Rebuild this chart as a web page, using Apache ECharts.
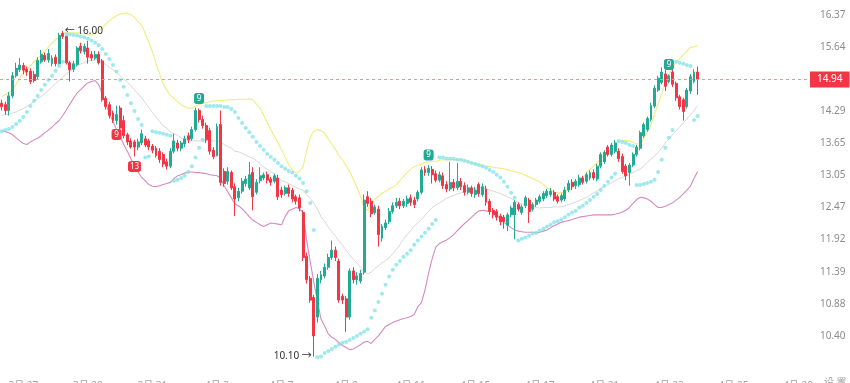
<!DOCTYPE html>
<html><head><meta charset="utf-8">
<script src="https://cdn.jsdelivr.net/npm/echarts@6/dist/echarts.min.js"></script>
<style>html,body{margin:0;padding:0;background:#fff}#c{width:850px;height:383px}</style>
</head><body><div id="c"></div>
<script>
const xTickLabels = ['3月 27','3月 29','3月 31','4月 3','4月 7','4月 9','4月 11','4月 15','4月 17','4月 21','4月 23','4月 25','4月 29'];
const yTickLabels = ['10.40','10.88','11.39','11.92','12.47','13.05','13.65','14.29','14.94','15.64','16.37'];

const opens = [14.45,14.42,14.30,14.60,15.02,15.15,15.24,15.16,15.12,15.05,
15.00,15.32,15.46,15.36,15.28,15.42,15.28,15.95,15.88,15.30,
15.16,15.26,15.66,15.54,15.62,15.48,15.40,15.48,15.34,14.55,
14.42,14.25,14.10,14.35,14.10,13.82,13.70,13.68,13.58,13.66,
13.74,13.70,13.60,13.56,13.50,13.44,13.30,13.22,13.50,13.66,
13.56,13.64,13.80,13.74,13.92,14.30,14.12,14.00,13.90,13.52,
13.42,14.02,13.12,12.94,13.10,12.84,12.64,12.76,12.90,12.82,
13.10,12.74,12.95,13.00,13.06,12.98,12.94,13.00,12.78,12.72,
12.82,12.78,12.66,12.64,12.38,11.64,11.28,10.98,10.68,11.26,
11.32,11.46,11.62,11.74,11.56,11.00,10.96,10.68,11.40,11.26,
11.24,11.38,12.66,12.58,12.38,12.44,11.94,12.12,12.22,12.40,
12.50,12.58,12.50,12.54,12.64,12.60,12.62,12.74,13.16,13.10,
13.16,
13.08,12.96,13.04,12.88,12.80,12.92,12.82,12.94,12.86,12.74,12.82,
12.70,12.88,12.70,12.80,12.58,12.42,12.40,12.32,12.30,12.16,12.34,12.34,12.52,
12.38,12.50,12.60,12.44,12.52,12.58,12.62,12.68,12.70,12.74,12.66,12.60,12.62,12.78,12.92,12.86,12.88,13.00,12.94,13.00,13.10,12.98,13.22,13.30,13.58,13.44,13.50,
13.50,13.40,13.22,
13.10,13.24,13.44,13.56,13.80,13.92,14.12,14.39,14.72,14.88,15.06,14.90,15.10,14.86,14.58,14.52,14.38,14.70,14.90,
15.10];
const closes = [14.38,14.30,14.60,15.02,15.18,15.25,15.14,15.10,14.90,14.92,
15.35,15.48,15.36,15.50,15.40,15.28,15.90,15.88,15.30,15.15,
15.28,15.62,15.56,15.66,15.42,15.40,15.48,15.30,14.52,14.38,
14.20,14.10,14.22,13.95,13.80,13.68,13.58,13.58,13.68,13.84,
13.62,13.58,13.52,13.42,13.34,13.26,13.22,13.50,13.70,13.56,
13.66,13.74,13.72,13.92,14.30,14.12,14.00,13.72,13.50,13.40,
13.98,12.92,12.90,13.12,12.82,12.62,12.76,12.94,12.98,13.06,
12.66,12.92,13.04,13.06,12.96,12.92,13.04,12.66,12.70,12.82,
12.72,12.62,12.58,12.46,11.62,11.26,10.94,10.40,11.28,11.34,
11.46,11.62,11.74,11.62,10.94,10.94,10.68,11.40,11.26,11.32,
11.36,12.60,12.54,12.36,12.48,12.00,12.14,12.20,12.40,12.50,
12.56,12.50,12.58,12.62,12.56,12.52,12.74,13.15,13.10,13.18,
13.06,
12.96,13.06,12.86,12.80,12.92,12.82,12.94,12.84,12.74,12.82,12.72,
12.78,12.72,12.84,12.56,12.40,12.34,12.30,12.22,12.22,12.34,12.46,12.56,12.44,
12.48,12.64,12.40,12.52,12.60,12.66,12.72,12.76,12.76,12.62,12.58,12.68,12.78,12.90,12.84,12.94,13.00,12.92,13.06,13.10,13.00,13.22,13.44,13.48,13.44,13.62,13.66,
13.36,13.12,13.04,
13.24,13.44,13.58,13.86,14.02,14.14,14.40,14.76,14.97,15.10,14.80,15.02,14.84,14.56,14.38,14.28,14.72,15.00,15.10,
14.94];
const lows = [14.30,14.22,14.20,14.55,14.98,15.10,15.05,15.02,14.85,14.88,
14.95,15.28,15.32,15.30,15.22,15.22,15.24,15.82,15.26,14.90,
15.10,15.22,15.50,15.48,15.28,15.34,15.36,15.26,14.48,14.32,
14.14,14.05,14.02,13.88,13.75,13.62,13.55,13.40,13.52,13.62,
13.58,13.52,13.46,13.38,13.28,13.20,13.16,13.18,13.46,13.50,
13.50,13.58,13.66,13.70,13.88,14.06,13.94,13.66,13.44,13.35,
13.40,12.86,12.84,12.88,12.78,12.32,12.58,12.72,12.84,12.78,
12.42,12.70,12.90,12.96,12.90,12.86,12.90,12.60,12.64,12.68,
12.66,12.56,12.52,12.40,11.56,11.20,10.90,10.10,10.60,11.20,
11.28,11.42,11.58,11.56,10.90,10.88,10.46,10.64,11.20,11.18,
11.20,11.34,12.48,12.30,12.34,11.80,11.88,12.08,12.18,12.36,
12.46,12.44,12.46,12.48,12.50,12.46,12.58,12.70,13.04,13.04,
12.90,
12.92,12.92,12.80,12.74,12.76,12.76,12.78,12.78,12.68,12.70,12.66,
12.64,12.66,12.66,12.50,12.34,12.28,12.24,12.16,12.10,12.06,12.30,11.92,12.40,
12.34,12.46,12.20,12.40,12.48,12.54,12.58,12.64,12.66,12.58,12.54,12.56,12.58,12.74,12.78,12.80,12.84,12.88,12.90,12.96,12.96,12.94,13.18,13.26,13.40,13.40,13.46,
13.30,13.08,12.96,
12.86,13.20,13.40,13.52,13.76,13.88,14.08,14.35,14.68,14.84,14.70,14.86,14.78,14.50,14.32,14.10,14.34,14.64,14.86,
14.62];
const highs = [14.52,14.48,14.68,15.10,15.30,15.40,15.30,15.22,15.18,15.12,
15.42,15.58,15.52,15.60,15.46,15.48,15.96,16.00,15.92,15.34,
15.34,15.66,15.74,15.72,15.78,15.55,15.56,15.55,15.38,14.60,
14.48,14.30,14.40,14.40,14.20,13.86,13.75,13.72,13.74,13.92,
13.80,13.74,13.64,13.60,13.56,13.48,13.36,13.56,13.84,13.72,
13.70,13.80,13.86,13.98,14.36,14.34,14.20,14.06,13.96,13.58,
14.04,14.30,13.18,13.20,13.14,12.90,12.82,13.00,13.04,13.30,
13.20,12.98,13.20,13.10,13.12,13.02,13.08,13.06,12.84,12.86,
12.88,12.82,12.70,12.70,12.42,11.70,11.32,11.02,11.35,11.40,
11.52,11.68,11.90,11.80,11.60,11.04,11.00,11.44,11.46,11.38,
11.42,12.70,12.76,12.64,12.52,12.50,12.18,12.26,12.46,12.56,
12.64,12.64,12.62,12.68,12.70,12.66,12.78,13.20,13.22,13.24,
13.22,
13.14,13.12,13.10,12.94,13.30,12.98,13.28,13.00,12.92,12.88,12.86,
12.84,12.92,12.90,12.86,12.62,12.46,12.44,12.36,12.34,12.38,12.50,12.60,12.56,
12.52,12.68,12.64,12.56,12.64,12.70,12.76,12.80,12.82,12.78,12.70,12.72,12.84,12.96,12.98,12.98,13.06,13.04,13.10,13.14,13.16,13.26,13.48,13.52,13.62,13.66,13.72,
13.56,13.46,13.26,
13.28,13.48,13.62,13.90,14.06,14.18,14.46,14.82,15.02,15.20,15.14,15.05,15.18,14.90,14.62,14.56,14.76,15.06,15.16,
15.22];

const bollUpper = [14.58,14.63,14.67,14.72,14.84,14.98,15.07,15.16,15.24,15.32,
15.40,15.47,15.55,15.64,15.73,15.81,15.88,15.95,15.96,15.96,
15.96,15.96,15.95,15.94,15.92,15.91,15.94,16.00,16.07,16.15,
16.24,16.30,16.35,16.39,16.40,16.41,16.38,16.31,16.21,16.14,
15.94,15.75,15.53,15.29,15.06,14.84,14.72,14.61,14.55,14.48,
14.42,14.38,14.35,14.35,14.39,14.42,14.45,14.46,14.48,14.50,
14.50,14.51,14.51,14.52,14.52,14.52,14.53,14.53,14.53,14.54,
14.52,14.43,14.35,14.21,14.06,13.92,13.79,13.66,13.53,13.38,
13.25,13.15,13.09,13.12,13.21,13.51,13.78,13.89,13.92,13.90,
13.85,13.74,13.64,13.54,13.42,13.34,13.23,13.12,12.98,12.84,
12.67,12.46,12.42,12.55,12.62,12.67,12.72,12.76,12.80,12.83,
12.88,12.95,13.03,13.10,13.16,13.21,13.23,13.25,13.29,13.30,
13.31,13.31,13.33,13.34,13.34,13.34,13.34,13.34,13.34,13.32,
13.30,13.28,13.26,13.25,13.23,13.22,13.21,13.20,13.19,13.18,
13.17,13.15,13.13,13.12,13.10,13.08,13.05,13.02,12.99,12.96,
12.93,12.88,12.83,12.78,12.74,12.73,12.73,12.75,12.80,12.83,
12.89,12.96,13.01,13.09,13.16,13.22,13.29,13.36,13.43,13.49,
13.55,13.64,13.69,13.70,13.71,13.70,13.67,13.64,13.64,13.74,
13.87,14.02,14.23,14.43,14.64,14.88,15.04,15.19,15.32,15.39,
15.47,15.55,15.63,15.65,15.67];
const bollMid = [14.20,14.22,14.23,14.25,14.27,14.31,14.34,14.38,14.43,14.48,
14.54,14.59,14.65,14.71,14.79,14.86,14.92,14.99,15.06,15.12,
15.18,15.23,15.27,15.31,15.34,15.35,15.36,15.36,15.31,15.26,
15.20,15.15,15.09,15.02,14.95,14.89,14.81,14.72,14.64,14.56,
14.46,14.36,14.26,14.17,14.08,13.99,13.95,13.87,13.84,13.81,
13.76,13.73,13.71,13.70,13.70,13.70,13.70,13.70,13.70,13.70,
13.70,13.68,13.63,13.59,13.56,13.50,13.49,13.46,13.43,13.39,
13.37,13.32,13.27,13.20,13.16,13.12,13.07,13.01,12.95,12.93,
12.90,12.86,12.83,12.80,12.78,12.69,12.63,12.54,12.44,12.31,
12.23,12.13,12.05,11.98,11.89,11.82,11.74,11.66,11.59,11.53,
11.46,11.38,11.35,11.38,11.44,11.48,11.53,11.57,11.61,11.68,
11.75,11.83,11.92,12.00,12.07,12.15,12.20,12.26,12.33,12.40,
12.47,12.51,12.55,12.59,12.63,12.66,12.68,12.71,12.73,12.76,
12.78,12.79,12.81,12.83,12.82,12.80,12.78,12.76,12.74,12.72,
12.69,12.66,12.63,12.59,12.56,12.53,12.52,12.50,12.49,12.47,
12.46,12.47,12.47,12.47,12.48,12.48,12.48,12.50,12.52,12.54,
12.57,12.59,12.62,12.65,12.69,12.73,12.76,12.81,12.84,12.88,
12.91,12.95,12.99,13.01,13.04,13.07,13.10,13.14,13.17,13.22,
13.29,13.35,13.41,13.48,13.56,13.66,13.74,13.82,13.90,13.97,
14.05,14.13,14.22,14.30,14.40];
const bollLower = [13.90,13.88,13.86,13.82,13.76,13.70,13.65,13.63,13.68,13.72,
13.75,13.80,13.86,13.91,13.97,14.04,14.10,14.20,14.31,14.43,
14.55,14.66,14.73,14.81,14.87,14.90,14.92,14.84,14.64,14.44,
14.24,14.08,13.92,13.78,13.63,13.50,13.36,13.23,13.11,13.01,
12.95,12.88,12.85,12.84,12.86,12.88,12.90,12.92,12.99,13.04,
13.06,13.09,13.11,13.11,13.10,13.10,13.09,13.08,13.06,13.05,
13.04,13.00,12.86,12.75,12.64,12.53,12.50,12.45,12.38,12.31,
12.25,12.21,12.17,12.14,12.17,12.20,12.19,12.18,12.17,12.31,
12.41,12.44,12.47,12.45,12.38,11.90,11.55,11.22,10.93,10.65,
10.55,10.43,10.38,10.35,10.30,10.26,10.23,10.20,10.21,10.24,
10.27,10.31,10.32,10.29,10.35,10.40,10.47,10.54,10.57,10.60,
10.62,10.64,10.66,10.67,10.69,10.72,10.84,10.90,11.10,11.37,
11.60,11.79,11.85,11.88,11.91,11.95,12.00,12.07,12.13,12.19,
12.24,12.30,12.36,12.41,12.42,12.41,12.40,12.39,12.33,12.27,
12.21,12.16,12.12,12.08,12.06,12.05,12.04,12.04,12.04,12.03,
12.04,12.06,12.08,12.12,12.15,12.18,12.21,12.23,12.24,12.26,
12.28,12.30,12.31,12.32,12.33,12.34,12.34,12.34,12.34,12.34,
12.34,12.35,12.37,12.39,12.42,12.47,12.54,12.61,12.65,12.64,
12.62,12.58,12.52,12.47,12.47,12.49,12.52,12.55,12.60,12.65,
12.71,12.78,12.85,12.99,13.12];
const sar = [13.89,13.91,13.93,13.97,14.03,14.09,14.17,14.27,14.39,14.50,
14.60,14.72,14.83,14.93,15.02,15.13,15.23,15.32,15.93,15.92,
15.91,15.90,15.88,15.86,15.83,15.79,15.74,15.68,15.60,15.49,
15.38,15.25,15.11,14.93,14.79,14.62,14.45,14.29,14.13,14.01,
13.38,13.40,13.89,13.87,13.86,13.84,13.82,13.80,12.95,12.97,
13.00,13.04,13.11,13.22,13.38,13.57,13.72,14.39,14.39,14.39,
14.39,14.39,14.37,14.37,14.33,14.27,14.15,14.05,13.95,13.87,
13.78,13.68,13.60,13.53,13.45,13.39,13.34,13.28,13.22,13.17,
13.13,13.10,13.04,12.99,12.91,12.76,12.55,12.08,10.09,10.10,
10.15,10.18,10.21,10.24,10.27,10.30,10.31,10.34,10.37,10.40,
10.43,10.46,10.50,10.67,10.78,10.91,11.04,11.18,11.31,11.42,
11.50,11.56,11.63,11.68,11.74,11.83,11.90,11.97,12.03,12.10,
12.18,12.25,13.38,13.38,13.36,13.36,13.36,13.34,13.34,13.32,
13.30,13.28,13.26,13.24,13.22,13.19,13.15,13.11,13.06,13.01,
12.93,12.84,12.73,12.64,11.90,11.93,11.95,11.98,12.02,12.03,
12.07,12.10,12.14,12.17,12.21,12.23,12.26,12.30,12.34,12.38,
12.41,12.47,12.50,12.55,12.60,12.66,12.71,12.78,12.86,12.93,
13.01,13.08,13.70,13.68,13.66,13.62,13.60,12.87,12.87,12.89,
12.91,12.93,12.97,13.11,13.34,13.57,13.76,13.91,15.32,15.30,
15.28,15.25,15.23,14.11,14.19];

// TD sequential count marks: candle index, text, side of candle
const tdIndex = [32, 37, 55, 119, 186];
const tdText  = ['9', '13', '9', '9', '9'];
const tdSide  = ['low', 'low', 'high', 'high', 'high'];

const LO = parseFloat(yTickLabels[0]);
const HI = parseFloat(yTickLabels[yTickLabels.length - 1]);
const STEP = Math.log(HI / LO) / (yTickLabels.length - 1);
const tv = p => Math.log(p / LO) / STEP;   // log-price scale, tick units

const N_CAT = 225, LABEL_START = 6, LABEL_EVERY = 18;
const cats = Array.from({length: N_CAT}, (_, i) => String(i));
const UP = '#22ab94', DOWN = '#f23645';
const FONT = "'Noto Sans','Noto Sans CJK SC',sans-serif";

const candle = opens.map((o, i) => [tv(o), tv(closes[i]), tv(lows[i]), tv(highs[i])]);
let iMax = 0, iMin = 0;
highs.forEach((h, i) => { if (h > highs[iMax]) iMax = i; });
lows.forEach((l, i) => { if (l < lows[iMin]) iMin = i; });
const last = closes[closes.length - 1];

const tdPoints = tdIndex.map((idx, k) => {
  const below = tdSide[k] === 'low';
  return {
    coord: [idx, tv(below ? lows[idx] : highs[idx])],
    symbol: 'roundRect',
    symbolSize: [tdText[k].length > 1 ? 13 : 10, 11],
    symbolOffset: [0, below ? 10 : -10],
    itemStyle: {color: below ? DOWN : UP},
    label: {show: true, position: 'inside', formatter: tdText[k], color: '#fff', fontSize: 8, fontFamily: FONT}
  };
});

const chart = echarts.init(document.getElementById('c'), null, {renderer: 'canvas'});
chart.setOption({
  animation: false,
  backgroundColor: '#fff',
  textStyle: {fontFamily: FONT},
  grid: {left: 0, right: 43, top: 0, bottom: 15, containLabel: false, outerBoundsMode: 'none'},
  xAxis: {
    type: 'category', data: cats, boundaryGap: true,
    axisLine: {show: false}, axisTick: {show: false}, splitLine: {show: false},
    axisLabel: {
      interval: (i) => i >= LABEL_START && (i - LABEL_START) % LABEL_EVERY === 0,
      formatter: (v, i) => xTickLabels[(i - LABEL_START) / LABEL_EVERY] || '',
      color: '#a0a0a0', fontSize: 10, margin: 13
    }
  },
  yAxis: {
    type: 'value', position: 'right', scale: true,
    min: -1, max: 10.464, interval: 1,
    axisLine: {show: false}, axisTick: {show: false}, splitLine: {show: false},
    axisLabel: {
      color: '#8c8c8c', fontSize: 10, margin: 13,
      formatter: (v) => { const k = Math.round(v); return (Math.abs(v - k) < 1e-6 && k >= 0 && k < yTickLabels.length) ? yTickLabels[k] : ''; }
    }
  },
  series: [
    {type: 'line', data: bollUpper.map(tv), symbol: 'none', lineStyle: {color: '#f2ec7e', width: 1.1}, z: 2, silent: true},
    {type: 'line', data: bollMid.map(tv), symbol: 'none', lineStyle: {color: '#d8d8d8', width: 1}, z: 2, silent: true},
    {type: 'line', data: bollLower.map(tv), symbol: 'none', lineStyle: {color: '#d68ac0', width: 1.1}, z: 2, silent: true},
    {
      type: 'candlestick', data: candle, barWidth: '68%', clip: false, z: 3,
      itemStyle: {color: UP, color0: DOWN, borderColor: UP, borderColor0: DOWN, borderWidth: 1},
      markLine: {
        symbol: ['none', 'none'], silent: true,
        data: [{yAxis: tv(last)}],
        lineStyle: {color: '#f0929a', type: [3, 3], width: 1},
        label: {show: true, position: 'end', formatter: last.toFixed(2), backgroundColor: DOWN, color: '#fff',
                padding: [3, 7, 3, 7], fontSize: 10, distance: 3, fontFamily: FONT}
      },
      markPoint: {
        silent: true,
        data: [
          {coord: [iMax, tv(highs[iMax])], symbol: 'circle', symbolSize: 2, itemStyle: {color: 'rgba(0,0,0,0)'},
           label: {show: true, position: 'right', distance: 1, formatter: '← ' + highs[iMax].toFixed(2), color: '#333', fontSize: 10}},
          {coord: [iMin, tv(lows[iMin])], symbol: 'circle', symbolSize: 2, itemStyle: {color: 'rgba(0,0,0,0)'},
           label: {show: true, position: 'left', distance: 1, formatter: lows[iMin].toFixed(2) + ' →', color: '#333', fontSize: 10}}
        ].concat(tdPoints)
      }
    },
    {type: 'scatter', data: sar.map((v, i) => [i, tv(v)]), symbolSize: 4, itemStyle: {color: '#84e3ea'}, z: 4, silent: true}
  ],
  graphic: [{type: 'text', left: 824, top: 378, style: {text: '设 置', fill: '#a0a0a0', font: '10px ' + FONT}}]
});
</script>
</body></html>
